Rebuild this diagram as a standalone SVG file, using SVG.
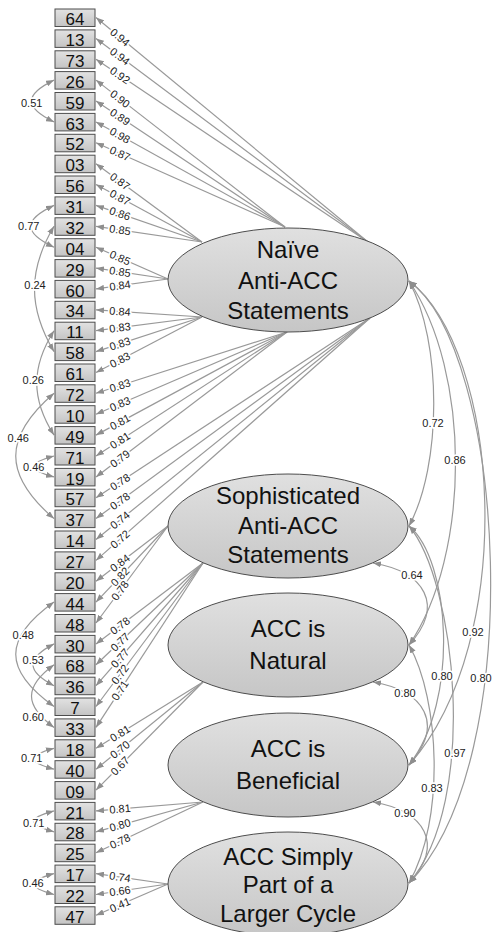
<svg xmlns="http://www.w3.org/2000/svg" width="493" height="932" viewBox="0 0 493 932">
<defs>
<linearGradient id="gb" x1="0" y1="0" x2="0" y2="1"><stop offset="0" stop-color="#e2e2e2"/><stop offset="1" stop-color="#c4c4c4"/></linearGradient>
<linearGradient id="ge" x1="0" y1="0" x2="0" y2="1"><stop offset="0" stop-color="#e0e0e0"/><stop offset="1" stop-color="#c6c6c6"/></linearGradient>
<marker id="ah" viewBox="0 0 8 6" refX="8" refY="3" markerWidth="8" markerHeight="6" markerUnits="userSpaceOnUse" orient="auto-start-reverse"><path d="M0,0 L8,3 L0,6 z" fill="#8e8e8e"/></marker>
<style>
.box rect{fill:url(#gb);stroke:#4d4d4d;stroke-width:1}
.box text{font-family:"Liberation Sans",Arial,sans-serif;font-size:17px;fill:#111;text-anchor:middle}
.lat ellipse{fill:url(#ge);stroke:#4d4d4d;stroke-width:1}
.lat text{font-family:"Liberation Sans",Arial,sans-serif;font-size:24px;fill:#111;text-anchor:middle}
.ld{stroke:#999;stroke-width:1.2;fill:none;marker-end:url(#ah)}
.cv{stroke:#999;stroke-width:1.2;fill:none;marker-start:url(#ah);marker-end:url(#ah)}
.lab{font-family:"Liberation Sans",Arial,sans-serif;font-size:11px;fill:#222;text-anchor:middle;stroke:#fff;stroke-width:3.5;stroke-linejoin:round;paint-order:stroke}
</style>
</defs>
<rect width="493" height="932" fill="#fff"/>
<g id="connectors">
<line class="ld" x1="368" y1="242" x2="96" y2="17.5"/>
<line class="ld" x1="368" y1="242" x2="96" y2="38.4"/>
<line class="ld" x1="368" y1="242" x2="96" y2="59.3"/>
<line class="ld" x1="285" y1="227" x2="96" y2="80.1"/>
<line class="ld" x1="285" y1="227" x2="96" y2="101"/>
<line class="ld" x1="285" y1="227" x2="96" y2="121.9"/>
<line class="ld" x1="285" y1="227" x2="96" y2="142.8"/>
<line class="ld" x1="202" y1="242" x2="96" y2="163.7"/>
<line class="ld" x1="202" y1="242" x2="96" y2="184.5"/>
<line class="ld" x1="202" y1="242" x2="96" y2="205.4"/>
<line class="ld" x1="202" y1="242" x2="96" y2="226.3"/>
<line class="ld" x1="168" y1="279" x2="96" y2="247.2"/>
<line class="ld" x1="168" y1="279" x2="96" y2="268.1"/>
<line class="ld" x1="168" y1="279" x2="96" y2="288.9"/>
<line class="ld" x1="202" y1="317" x2="96" y2="309.8"/>
<line class="ld" x1="202" y1="317" x2="96" y2="330.7"/>
<line class="ld" x1="202" y1="317" x2="96" y2="351.6"/>
<line class="ld" x1="202" y1="317" x2="96" y2="372.5"/>
<line class="ld" x1="287" y1="332" x2="96" y2="393.3"/>
<line class="ld" x1="287" y1="332" x2="96" y2="414.2"/>
<line class="ld" x1="287" y1="332" x2="96" y2="435.1"/>
<line class="ld" x1="287" y1="332" x2="96" y2="456"/>
<line class="ld" x1="287" y1="332" x2="96" y2="476.9"/>
<line class="ld" x1="370" y1="318" x2="96" y2="497.7"/>
<line class="ld" x1="370" y1="318" x2="96" y2="518.6"/>
<line class="ld" x1="370" y1="318" x2="96" y2="539.5"/>
<line class="ld" x1="370" y1="318" x2="96" y2="560.4"/>
<line class="ld" x1="168" y1="526" x2="96" y2="581.3"/>
<line class="ld" x1="168" y1="526" x2="96" y2="602.1"/>
<line class="ld" x1="168" y1="526" x2="96" y2="623"/>
<line class="ld" x1="203" y1="563" x2="96" y2="643.9"/>
<line class="ld" x1="203" y1="563" x2="96" y2="664.8"/>
<line class="ld" x1="203" y1="563" x2="96" y2="685.7"/>
<line class="ld" x1="203" y1="563" x2="96" y2="706.5"/>
<line class="ld" x1="203" y1="563" x2="96" y2="727.4"/>
<line class="ld" x1="203" y1="682" x2="96" y2="748.3"/>
<line class="ld" x1="203" y1="682" x2="96" y2="769.2"/>
<line class="ld" x1="203" y1="682" x2="96" y2="790.1"/>
<line class="ld" x1="203" y1="802" x2="96" y2="810.9"/>
<line class="ld" x1="203" y1="802" x2="96" y2="831.8"/>
<line class="ld" x1="203" y1="802" x2="96" y2="852.7"/>
<line class="ld" x1="168" y1="884" x2="96" y2="873.6"/>
<line class="ld" x1="168" y1="884" x2="96" y2="894.5"/>
<line class="ld" x1="168" y1="884" x2="96" y2="915.3"/>
<path class="cv" d="M54,80.1 C24,94.7 24,107.3 54,121.9"/>
<path class="cv" d="M54,205.4 C23,220 23,232.6 54,247.2"/>
<path class="cv" d="M54,226.3 C28,270.2 28,307.7 54,351.6"/>
<path class="cv" d="M54,330.7 C31,367.2 31,398.6 54,435.1"/>
<path class="cv" d="M54,393.3 C3,437.2 3,474.7 54,518.6"/>
<path class="cv" d="M54,456 C27,463.3 27,469.6 54,476.9"/>
<path class="cv" d="M54,602.1 C3,638.6 3,670 54,706.5"/>
<path class="cv" d="M54,643.9 C26,658.5 26,671.1 54,685.7"/>
<path class="cv" d="M54,664.8 C24,686.7 24,705.5 54,727.4"/>
<path class="cv" d="M54,748.3 C27,755.6 27,761.9 54,769.2"/>
<path class="cv" d="M54,810.9 C27,818.2 27,824.5 54,831.8"/>
<path class="cv" d="M54,873.6 C27,880.9 27,887.2 54,894.5"/>
<path class="cv" d="M409,281 C442,342 442,465 409,526"/>
<path class="cv" d="M409,281 C471,372 471,554 409,645"/>
<path class="cv" d="M409,281 C500,350 520,640 409,765"/>
<path class="cv" d="M409,281 C505,350 530,760 409,883"/>
<path class="cv" d="M409,526 C450,560 460,700 409,765"/>
<path class="cv" d="M409,526 C455,580 480,800 409,883"/>
<path class="cv" d="M409,645 C440,700 445,820 409,883"/>
<path class="cv" d="M373,563 C425,572 445,605 409,645"/>
<path class="cv" d="M373,682 C425,691 445,724 409,765"/>
<path class="cv" d="M373,802 C425,811 445,844 409,883"/>
</g>
<g id="labels">
<text class="lab" x="120" y="37.3" dy=".35em" transform="rotate(39.5 120 37.3)">0.94</text>
<text class="lab" x="120" y="56.4" dy=".35em" transform="rotate(36.8 120 56.4)">0.94</text>
<text class="lab" x="120" y="75.4" dy=".35em" transform="rotate(33.9 120 75.4)">0.92</text>
<text class="lab" x="120" y="98.8" dy=".35em" transform="rotate(37.9 120 98.8)">0.90</text>
<text class="lab" x="120" y="117" dy=".35em" transform="rotate(33.7 120 117)">0.89</text>
<text class="lab" x="120" y="135.3" dy=".35em" transform="rotate(29.2 120 135.3)">0.98</text>
<text class="lab" x="120" y="153.6" dy=".35em" transform="rotate(24.2 120 153.6)">0.87</text>
<text class="lab" x="120" y="181.4" dy=".35em" transform="rotate(36.4 120 181.4)">0.87</text>
<text class="lab" x="120" y="197.5" dy=".35em" transform="rotate(28.5 120 197.5)">0.87</text>
<text class="lab" x="120" y="213.7" dy=".35em" transform="rotate(19 120 213.7)">0.86</text>
<text class="lab" x="120" y="229.9" dy=".35em" transform="rotate(8.4 120 229.9)">0.85</text>
<text class="lab" x="120" y="257.8" dy=".35em" transform="rotate(23.8 120 257.8)">0.85</text>
<text class="lab" x="120" y="271.7" dy=".35em" transform="rotate(8.6 120 271.7)">0.85</text>
<text class="lab" x="120" y="285.6" dy=".35em" transform="rotate(-7.8 120 285.6)">0.84</text>
<text class="lab" x="120" y="311.4" dy=".35em" transform="rotate(3.9 120 311.4)">0.84</text>
<text class="lab" x="120" y="327.6" dy=".35em" transform="rotate(-7.4 120 327.6)">0.83</text>
<text class="lab" x="120" y="343.8" dy=".35em" transform="rotate(-18.1 120 343.8)">0.83</text>
<text class="lab" x="120" y="359.9" dy=".35em" transform="rotate(-27.6 120 359.9)">0.83</text>
<text class="lab" x="120" y="385.6" dy=".35em" transform="rotate(-17.8 120 385.6)">0.83</text>
<text class="lab" x="120" y="403.9" dy=".35em" transform="rotate(-23.3 120 403.9)">0.83</text>
<text class="lab" x="120" y="422.1" dy=".35em" transform="rotate(-28.4 120 422.1)">0.81</text>
<text class="lab" x="120" y="440.4" dy=".35em" transform="rotate(-33 120 440.4)">0.81</text>
<text class="lab" x="120" y="458.7" dy=".35em" transform="rotate(-37.2 120 458.7)">0.79</text>
<text class="lab" x="120" y="482" dy=".35em" transform="rotate(-33.3 120 482)">0.78</text>
<text class="lab" x="120" y="501" dy=".35em" transform="rotate(-36.2 120 501)">0.78</text>
<text class="lab" x="120" y="520.1" dy=".35em" transform="rotate(-38.9 120 520.1)">0.74</text>
<text class="lab" x="120" y="539.2" dy=".35em" transform="rotate(-41.5 120 539.2)">0.72</text>
<text class="lab" x="120" y="562.9" dy=".35em" transform="rotate(-37.5 120 562.9)">0.84</text>
<text class="lab" x="120" y="576.7" dy=".35em" transform="rotate(-46.6 120 576.7)">0.82</text>
<text class="lab" x="120" y="590.7" dy=".35em" transform="rotate(-53.4 120 590.7)">0.78</text>
<text class="lab" x="120" y="625.8" dy=".35em" transform="rotate(-37.1 120 625.8)">0.78</text>
<text class="lab" x="120" y="642" dy=".35em" transform="rotate(-43.6 120 642)">0.77</text>
<text class="lab" x="120" y="658.2" dy=".35em" transform="rotate(-49 120 658.2)">0.77</text>
<text class="lab" x="120" y="674.3" dy=".35em" transform="rotate(-53.3 120 674.3)">0.72</text>
<text class="lab" x="120" y="690.5" dy=".35em" transform="rotate(-56.9 120 690.5)">0.71</text>
<text class="lab" x="120" y="733.4" dy=".35em" transform="rotate(-31.8 120 733.4)">0.81</text>
<text class="lab" x="120" y="749.6" dy=".35em" transform="rotate(-39.2 120 749.6)">0.70</text>
<text class="lab" x="120" y="765.9" dy=".35em" transform="rotate(-45.3 120 765.9)">0.67</text>
<text class="lab" x="120" y="808.9" dy=".35em" transform="rotate(-4.8 120 808.9)">0.81</text>
<text class="lab" x="120" y="825.1" dy=".35em" transform="rotate(-15.6 120 825.1)">0.80</text>
<text class="lab" x="120" y="841.3" dy=".35em" transform="rotate(-25.3 120 841.3)">0.78</text>
<text class="lab" x="120" y="877.1" dy=".35em" transform="rotate(8.2 120 877.1)">0.74</text>
<text class="lab" x="120" y="891" dy=".35em" transform="rotate(-8.3 120 891)">0.66</text>
<text class="lab" x="120" y="904.9" dy=".35em" transform="rotate(-23.5 120 904.9)">0.41</text>
<text class="lab" x="31.7" y="102.7" dy=".35em">0.51</text>
<text class="lab" x="28.8" y="226.5" dy=".35em">0.77</text>
<text class="lab" x="35" y="285" dy=".35em">0.24</text>
<text class="lab" x="33.3" y="380" dy=".35em">0.26</text>
<text class="lab" x="18.3" y="438" dy=".35em">0.46</text>
<text class="lab" x="33.7" y="466.7" dy=".35em">0.46</text>
<text class="lab" x="23.3" y="635" dy=".35em">0.48</text>
<text class="lab" x="33.3" y="660" dy=".35em">0.53</text>
<text class="lab" x="33.3" y="716.7" dy=".35em">0.60</text>
<text class="lab" x="31.7" y="758.3" dy=".35em">0.71</text>
<text class="lab" x="33.7" y="822.7" dy=".35em">0.71</text>
<text class="lab" x="33" y="883.3" dy=".35em">0.46</text>
<text class="lab" x="433" y="423" dy=".35em">0.72</text>
<text class="lab" x="455" y="460" dy=".35em">0.86</text>
<text class="lab" x="473" y="632" dy=".35em">0.92</text>
<text class="lab" x="481" y="678" dy=".35em">0.80</text>
<text class="lab" x="442" y="676" dy=".35em">0.80</text>
<text class="lab" x="455" y="753" dy=".35em">0.97</text>
<text class="lab" x="432" y="788" dy=".35em">0.83</text>
<text class="lab" x="412" y="575" dy=".35em">0.64</text>
<text class="lab" x="405" y="693" dy=".35em">0.80</text>
<text class="lab" x="405" y="813" dy=".35em">0.90</text>
</g>
<g id="box64" class="box" transform="translate(55 9)"><rect width="40" height="17.5"/><text x="20" y="16.2">64</text></g>
<g id="box13" class="box" transform="translate(55 29.9)"><rect width="40" height="17.5"/><text x="20" y="16.2">13</text></g>
<g id="box73" class="box" transform="translate(55 50.8)"><rect width="40" height="17.5"/><text x="20" y="16.2">73</text></g>
<g id="box26" class="box" transform="translate(55 71.6)"><rect width="40" height="17.5"/><text x="20" y="16.2">26</text></g>
<g id="box59" class="box" transform="translate(55 92.5)"><rect width="40" height="17.5"/><text x="20" y="16.2">59</text></g>
<g id="box63" class="box" transform="translate(55 113.4)"><rect width="40" height="17.5"/><text x="20" y="16.2">63</text></g>
<g id="box52" class="box" transform="translate(55 134.3)"><rect width="40" height="17.5"/><text x="20" y="16.2">52</text></g>
<g id="box03" class="box" transform="translate(55 155.2)"><rect width="40" height="17.5"/><text x="20" y="16.2">03</text></g>
<g id="box56" class="box" transform="translate(55 176)"><rect width="40" height="17.5"/><text x="20" y="16.2">56</text></g>
<g id="box31" class="box" transform="translate(55 196.9)"><rect width="40" height="17.5"/><text x="20" y="16.2">31</text></g>
<g id="box32" class="box" transform="translate(55 217.8)"><rect width="40" height="17.5"/><text x="20" y="16.2">32</text></g>
<g id="box04" class="box" transform="translate(55 238.7)"><rect width="40" height="17.5"/><text x="20" y="16.2">04</text></g>
<g id="box29" class="box" transform="translate(55 259.6)"><rect width="40" height="17.5"/><text x="20" y="16.2">29</text></g>
<g id="box60" class="box" transform="translate(55 280.4)"><rect width="40" height="17.5"/><text x="20" y="16.2">60</text></g>
<g id="box34" class="box" transform="translate(55 301.3)"><rect width="40" height="17.5"/><text x="20" y="16.2">34</text></g>
<g id="box11" class="box" transform="translate(55 322.2)"><rect width="40" height="17.5"/><text x="20" y="16.2">11</text></g>
<g id="box58" class="box" transform="translate(55 343.1)"><rect width="40" height="17.5"/><text x="20" y="16.2">58</text></g>
<g id="box61" class="box" transform="translate(55 364)"><rect width="40" height="17.5"/><text x="20" y="16.2">61</text></g>
<g id="box72" class="box" transform="translate(55 384.8)"><rect width="40" height="17.5"/><text x="20" y="16.2">72</text></g>
<g id="box10" class="box" transform="translate(55 405.7)"><rect width="40" height="17.5"/><text x="20" y="16.2">10</text></g>
<g id="box49" class="box" transform="translate(55 426.6)"><rect width="40" height="17.5"/><text x="20" y="16.2">49</text></g>
<g id="box71" class="box" transform="translate(55 447.5)"><rect width="40" height="17.5"/><text x="20" y="16.2">71</text></g>
<g id="box19" class="box" transform="translate(55 468.4)"><rect width="40" height="17.5"/><text x="20" y="16.2">19</text></g>
<g id="box57" class="box" transform="translate(55 489.2)"><rect width="40" height="17.5"/><text x="20" y="16.2">57</text></g>
<g id="box37" class="box" transform="translate(55 510.1)"><rect width="40" height="17.5"/><text x="20" y="16.2">37</text></g>
<g id="box14" class="box" transform="translate(55 531)"><rect width="40" height="17.5"/><text x="20" y="16.2">14</text></g>
<g id="box27" class="box" transform="translate(55 551.9)"><rect width="40" height="17.5"/><text x="20" y="16.2">27</text></g>
<g id="box20" class="box" transform="translate(55 572.8)"><rect width="40" height="17.5"/><text x="20" y="16.2">20</text></g>
<g id="box44" class="box" transform="translate(55 593.6)"><rect width="40" height="17.5"/><text x="20" y="16.2">44</text></g>
<g id="box48" class="box" transform="translate(55 614.5)"><rect width="40" height="17.5"/><text x="20" y="16.2">48</text></g>
<g id="box30" class="box" transform="translate(55 635.4)"><rect width="40" height="17.5"/><text x="20" y="16.2">30</text></g>
<g id="box68" class="box" transform="translate(55 656.3)"><rect width="40" height="17.5"/><text x="20" y="16.2">68</text></g>
<g id="box36" class="box" transform="translate(55 677.2)"><rect width="40" height="17.5"/><text x="20" y="16.2">36</text></g>
<g id="box7" class="box" transform="translate(55 698)"><rect width="40" height="17.5"/><text x="20" y="16.2">7</text></g>
<g id="box33" class="box" transform="translate(55 718.9)"><rect width="40" height="17.5"/><text x="20" y="16.2">33</text></g>
<g id="box18" class="box" transform="translate(55 739.8)"><rect width="40" height="17.5"/><text x="20" y="16.2">18</text></g>
<g id="box40" class="box" transform="translate(55 760.7)"><rect width="40" height="17.5"/><text x="20" y="16.2">40</text></g>
<g id="box09" class="box" transform="translate(55 781.6)"><rect width="40" height="17.5"/><text x="20" y="16.2">09</text></g>
<g id="box21" class="box" transform="translate(55 802.4)"><rect width="40" height="17.5"/><text x="20" y="16.2">21</text></g>
<g id="box28" class="box" transform="translate(55 823.3)"><rect width="40" height="17.5"/><text x="20" y="16.2">28</text></g>
<g id="box25" class="box" transform="translate(55 844.2)"><rect width="40" height="17.5"/><text x="20" y="16.2">25</text></g>
<g id="box17" class="box" transform="translate(55 865.1)"><rect width="40" height="17.5"/><text x="20" y="16.2">17</text></g>
<g id="box22" class="box" transform="translate(55 886)"><rect width="40" height="17.5"/><text x="20" y="16.2">22</text></g>
<g id="box47" class="box" transform="translate(55 906.8)"><rect width="40" height="17.5"/><text x="20" y="16.2">47</text></g>
<g id="naive" class="lat"><ellipse cx="288" cy="280" rx="120" ry="52"/><text x="288" y="258">Naïve</text><text x="288" y="289">Anti-ACC</text><text x="288" y="319">Statements</text></g>
<g id="sophisticated" class="lat"><ellipse cx="288" cy="526" rx="120" ry="52"/><text x="288" y="504">Sophisticated</text><text x="288" y="534">Anti-ACC</text><text x="288" y="563">Statements</text></g>
<g id="natural" class="lat"><ellipse cx="288" cy="645" rx="120" ry="52"/><text x="288" y="637">ACC is</text><text x="288" y="669">Natural</text></g>
<g id="beneficial" class="lat"><ellipse cx="288" cy="765" rx="120" ry="52"/><text x="288" y="757">ACC is</text><text x="288" y="789">Beneficial</text></g>
<g id="cycle" class="lat"><ellipse cx="288" cy="884" rx="120" ry="52"/><text x="288" y="865">ACC Simply</text><text x="288" y="893">Part of a</text><text x="288" y="922">Larger Cycle</text></g>
</svg>
